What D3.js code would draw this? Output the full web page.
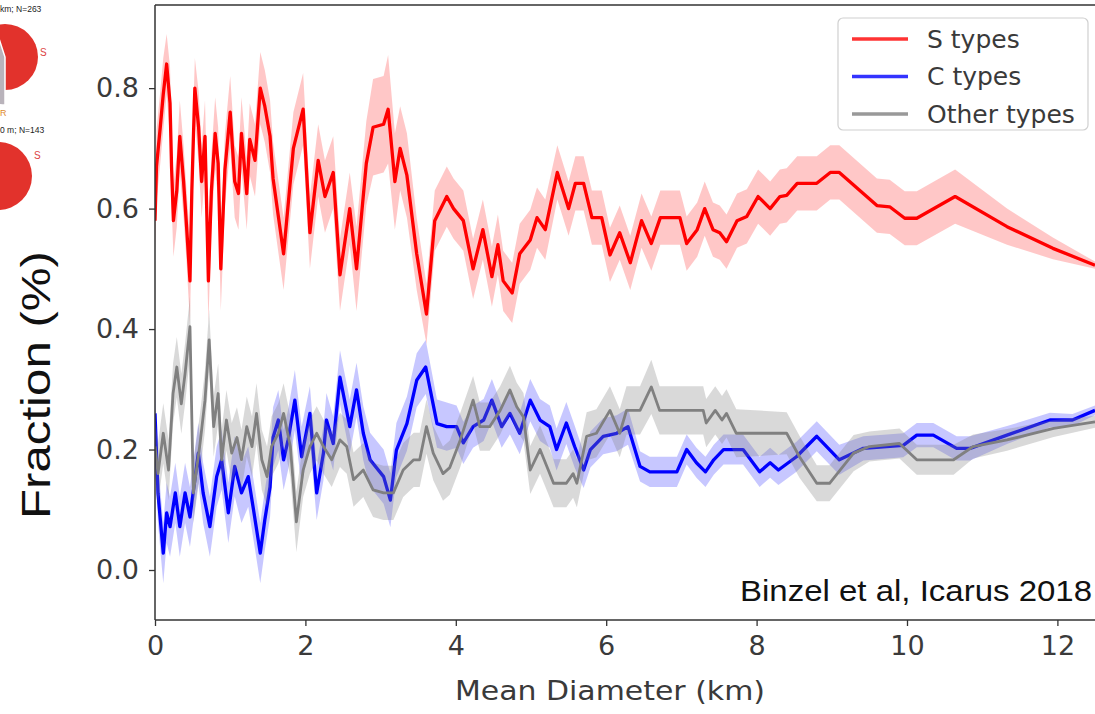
<!DOCTYPE html>
<html>
<head>
<meta charset="utf-8">
<script src="https://cdn.jsdelivr.net/npm/d3@7"></script>
<style>
  body { margin: 0; background: #fff; }
  svg { display: block; }
</style>
</head>
<body>
<div class="chart"></div>
<script>
// S types (red)
var sDiam = [0, 0.02, 0.07, 0.11, 0.155, 0.2, 0.22, 0.245, 0.29, 0.33,
  0.38, 0.42, 0.465, 0.49, 0.53, 0.58, 0.62, 0.665, 0.71, 0.75,
  0.8, 0.84, 0.875, 0.93, 1.0, 1.06, 1.11, 1.15, 1.22, 1.26,
  1.33, 1.4, 1.46, 1.53, 1.57, 1.71, 1.84, 1.97, 2.06, 2.17,
  2.26, 2.37, 2.46, 2.59, 2.68, 2.81, 2.9, 3.04, 3.1, 3.19,
  3.26, 3.35, 3.48, 3.61, 3.72, 3.88, 3.97, 4.1, 4.23, 4.36,
  4.48, 4.56, 4.63, 4.75, 4.85, 4.99, 5.08, 5.19, 5.35, 5.5,
  5.59, 5.7, 5.81, 5.94, 6.05, 6.18, 6.32, 6.47, 6.6, 6.72,
  6.98, 7.07, 7.21, 7.31, 7.42, 7.51, 7.6, 7.74, 7.87, 8.02,
  8.18, 8.31, 8.4, 8.54, 8.8, 8.98, 9.1, 9.6, 9.77, 9.97,
  10.13, 10.64, 11.33, 11.94, 12.5];
var sFrac = [0.58, 0.67, 0.735, 0.79, 0.84, 0.775, 0.67, 0.58, 0.63, 0.72,
  0.645, 0.57, 0.48, 0.63, 0.80, 0.735, 0.645, 0.72, 0.48, 0.63,
  0.725, 0.675, 0.50, 0.665, 0.76, 0.645, 0.625, 0.725, 0.625, 0.715,
  0.68, 0.80, 0.77, 0.72, 0.65, 0.525, 0.70, 0.765, 0.56, 0.68,
  0.62, 0.66, 0.49, 0.60, 0.50, 0.675, 0.735, 0.74, 0.765, 0.645,
  0.70, 0.655, 0.525, 0.425, 0.58, 0.62, 0.60, 0.58, 0.50, 0.565,
  0.487, 0.54, 0.48, 0.46, 0.525, 0.548, 0.585, 0.565, 0.66, 0.60,
  0.642, 0.642, 0.585, 0.585, 0.523, 0.56, 0.51, 0.58, 0.542, 0.585,
  0.585, 0.542, 0.565, 0.60, 0.565, 0.56, 0.545, 0.58, 0.587, 0.62,
  0.60, 0.62, 0.622, 0.642, 0.642, 0.66, 0.66, 0.605, 0.603, 0.584,
  0.584, 0.62, 0.57, 0.534, 0.506];
var sErr = [0.05, 0.06, 0.06, 0.06, 0.05, 0.06, 0.06, 0.06, 0.06, 0.06,
  0.06, 0.06, 0.07, 0.06, 0.05, 0.06, 0.06, 0.06, 0.07, 0.06,
  0.06, 0.06, 0.07, 0.06, 0.06, 0.06, 0.06, 0.06, 0.06, 0.06,
  0.06, 0.06, 0.06, 0.06, 0.06, 0.06, 0.06, 0.06, 0.06, 0.06,
  0.06, 0.06, 0.06, 0.06, 0.07, 0.07, 0.08, 0.08, 0.09, 0.08,
  0.07, 0.07, 0.06, 0.05, 0.05, 0.05, 0.05, 0.05, 0.05, 0.05,
  0.05, 0.05, 0.05, 0.05, 0.05, 0.05, 0.05, 0.05, 0.045, 0.045,
  0.045, 0.045, 0.045, 0.045, 0.045, 0.045, 0.045, 0.045, 0.045, 0.045,
  0.045, 0.045, 0.045, 0.045, 0.045, 0.045, 0.045, 0.045, 0.045, 0.045,
  0.045, 0.045, 0.045, 0.045, 0.045, 0.045, 0.045, 0.045, 0.045, 0.045,
  0.045, 0.045, 0.03, 0.018, 0.006];

// C types (blue)
var cDiam = [0, 0.04, 0.11, 0.155, 0.2, 0.27, 0.33, 0.4, 0.465, 0.576,
  0.64, 0.73, 0.82, 0.886, 0.975, 1.06, 1.15, 1.24, 1.31, 1.4,
  1.46, 1.53, 1.57, 1.64, 1.71, 1.77, 1.86, 1.95, 2.06, 2.15,
  2.24, 2.28, 2.37, 2.46, 2.59, 2.68, 2.77, 2.86, 3.04, 3.13,
  3.21, 3.35, 3.48, 3.6, 3.75, 3.88, 4.01, 4.1, 4.23, 4.37,
  4.48, 4.61, 4.72, 4.85, 4.99, 5.12, 5.25, 5.34, 5.47, 5.58,
  5.7, 5.79, 5.96, 6.14, 6.29, 6.45, 6.58, 6.94, 7.07, 7.2,
  7.32, 7.43, 7.56, 7.82, 8.04, 8.18, 8.29, 8.53, 8.8, 9.1,
  9.42, 9.95, 10.13, 10.35, 10.66, 10.84, 11.33, 11.9, 12.2, 12.5];
var cFrac = [0.26, 0.127, 0.028, 0.095, 0.072, 0.128, 0.072, 0.128, 0.088, 0.194,
  0.128, 0.072, 0.155, 0.183, 0.095, 0.172, 0.128, 0.155, 0.10, 0.028,
  0.083, 0.138, 0.22, 0.249, 0.183, 0.216, 0.282, 0.188, 0.26, 0.128,
  0.194, 0.249, 0.21, 0.32, 0.238, 0.299, 0.227, 0.183, 0.155, 0.116,
  0.199, 0.243, 0.315, 0.337, 0.243, 0.238, 0.238, 0.211, 0.238, 0.249,
  0.282, 0.238, 0.26, 0.227, 0.282, 0.249, 0.238, 0.20, 0.244, 0.205,
  0.166, 0.20, 0.222, 0.227, 0.238, 0.172, 0.163, 0.163, 0.20, 0.178,
  0.163, 0.183, 0.20, 0.20, 0.163, 0.178, 0.166, 0.188, 0.222, 0.183,
  0.202, 0.207, 0.224, 0.224, 0.202, 0.202, 0.224, 0.249, 0.249, 0.265];
var cErr = [0.05, 0.05, 0.05, 0.05, 0.05, 0.05, 0.05, 0.05, 0.05, 0.05,
  0.05, 0.05, 0.05, 0.05, 0.05, 0.05, 0.05, 0.05, 0.05, 0.05,
  0.05, 0.05, 0.05, 0.05, 0.05, 0.05, 0.05, 0.05, 0.045, 0.045,
  0.045, 0.045, 0.045, 0.045, 0.045, 0.045, 0.045, 0.045, 0.045, 0.045,
  0.045, 0.045, 0.045, 0.045, 0.04, 0.04, 0.035, 0.035, 0.035, 0.035,
  0.035, 0.035, 0.035, 0.035, 0.035, 0.035, 0.035, 0.035, 0.035, 0.035,
  0.03, 0.03, 0.03, 0.03, 0.03, 0.025, 0.025, 0.025, 0.025, 0.025,
  0.025, 0.025, 0.025, 0.025, 0.025, 0.025, 0.025, 0.025, 0.025, 0.025,
  0.02, 0.02, 0.02, 0.02, 0.02, 0.02, 0.015, 0.012, 0.01, 0.008];

// Other types (gray)
var oDiam = [0, 0.04, 0.11, 0.18, 0.24, 0.29, 0.35, 0.4, 0.465, 0.51,
  0.6, 0.665, 0.72, 0.78, 0.84, 0.886, 0.95, 1.02, 1.09, 1.15,
  1.22, 1.29, 1.35, 1.42, 1.49, 1.55, 1.64, 1.71, 1.8, 1.88,
  1.97, 2.06, 2.15, 2.24, 2.35, 2.46, 2.55, 2.64, 2.77, 2.9,
  3.04, 3.17, 3.3, 3.44, 3.52, 3.61, 3.7, 3.83, 3.92, 4.06,
  4.23, 4.32, 4.45, 4.59, 4.72, 4.81, 4.9, 4.99, 5.12, 5.23,
  5.3, 5.47, 5.56, 5.61, 5.74, 5.87, 6.05, 6.18, 6.27, 6.45,
  6.6, 6.71, 7.29, 7.33, 7.45, 7.54, 7.6, 7.73, 8.4, 8.57,
  8.8, 8.97, 9.29, 9.5, 9.9, 10.13, 10.62, 10.88, 11.33, 11.95,
  12.5];
var oFrac = [0.205, 0.16, 0.227, 0.166, 0.293, 0.337, 0.276, 0.326, 0.404, 0.128,
  0.211, 0.282, 0.382, 0.238, 0.293, 0.183, 0.249, 0.194, 0.22, 0.183,
  0.238, 0.205, 0.26, 0.183, 0.155, 0.205, 0.227, 0.26, 0.205, 0.08,
  0.166, 0.205, 0.227, 0.205, 0.183, 0.216, 0.205, 0.15, 0.166, 0.133,
  0.128, 0.128, 0.166, 0.183, 0.183, 0.238, 0.194, 0.16, 0.17, 0.216,
  0.282, 0.238, 0.238, 0.265, 0.299, 0.271, 0.254, 0.166, 0.20, 0.166,
  0.144, 0.144, 0.16, 0.144, 0.222, 0.227, 0.265, 0.227, 0.265, 0.265,
  0.304, 0.265, 0.265, 0.244, 0.265, 0.249, 0.26, 0.227, 0.227, 0.188,
  0.144, 0.144, 0.194, 0.205, 0.21, 0.183, 0.183, 0.205, 0.216, 0.235,
  0.246];
var oErr = [0.05, 0.05, 0.05, 0.05, 0.05, 0.05, 0.05, 0.05, 0.05, 0.05,
  0.05, 0.05, 0.05, 0.05, 0.05, 0.05, 0.05, 0.05, 0.05, 0.05,
  0.05, 0.05, 0.05, 0.05, 0.05, 0.05, 0.05, 0.05, 0.05, 0.05,
  0.045, 0.045, 0.045, 0.045, 0.045, 0.045, 0.045, 0.045, 0.045, 0.045,
  0.045, 0.045, 0.045, 0.045, 0.045, 0.045, 0.045, 0.045, 0.045, 0.045,
  0.04, 0.04, 0.04, 0.04, 0.04, 0.04, 0.04, 0.04, 0.04, 0.04,
  0.04, 0.04, 0.04, 0.04, 0.04, 0.04, 0.04, 0.04, 0.04, 0.04,
  0.045, 0.04, 0.04, 0.04, 0.04, 0.04, 0.04, 0.04, 0.035, 0.035,
  0.03, 0.03, 0.03, 0.025, 0.025, 0.025, 0.025, 0.02, 0.018, 0.014,
  0.01];

var xTicks = [0, 2, 4, 6, 8, 10, 12];
var yTicks = [0.0, 0.2, 0.4, 0.6, 0.8];
var legendNames = ["S types", "C types", "Other types"];
var pieLabels = ["km;  N=263", "0 m;  N=143"];

var width = 1095, height = 714;
var plot = {left: 155, right: 1095, top: 5, bottom: 620};

var svg = d3.select(".chart")
  .append("svg")
  .attr("width", width)
  .attr("height", height);

var x = d3.scaleLinear().domain([0, 12.5]).range([plot.left, plot.right]);
var y = d3.scaleLinear().domain([-0.083, 0.938]).range([plot.bottom, plot.top]);

svg.append("clipPath").attr("id", "clip")
  .append("rect")
  .attr("x", plot.left).attr("y", plot.top)
  .attr("width", plot.right - plot.left).attr("height", plot.bottom - plot.top);

// partial pies cut off at the left edge
var pieG = svg.append("g").attr("font-family", "Liberation Sans, Arial, sans-serif");
pieG.append("circle").attr("cx", 5).attr("cy", 57).attr("r", 33).attr("fill", "#e2322c");
pieG.append("path")
  .attr("d", d3.arc().innerRadius(0).outerRadius(48).startAngle(Math.PI * 1.0).endAngle(Math.PI * 1.9)())
  .attr("transform", "translate(5,57)")
  .attr("fill", "#b9b3bb")
  .attr("stroke", "#fff")
  .attr("stroke-width", 1.5);
pieG.append("text").attr("x", 0).attr("y", 116).attr("font-size", 9).attr("fill", "#e08a2a").text("R");
pieG.append("circle").attr("cx", -2).attr("cy", 176).attr("r", 34).attr("fill", "#e2322c");
pieG.selectAll("text.pl").data(pieLabels).enter().append("text")
  .attr("class", "pl")
  .attr("x", 0)
  .attr("y", function(d, i) { return i == 0 ? 12 : 133; })
  .attr("font-size", 8.5)
  .attr("fill", "#222")
  .text(function(d) { return d; });
pieG.selectAll("text.ps").data([0, 1]).enter().append("text")
  .attr("x", function(d) { return d == 0 ? 40 : 34; })
  .attr("y", function(d) { return d == 0 ? 56 : 159; })
  .attr("font-size", 10)
  .attr("fill", "#d44")
  .text("S");

var series = [
  {d: sDiam, v: sFrac, e: sErr, line: "#ff0000", band: "#ff0000", bandOp: 0.22, w: 3.3},
  {d: cDiam, v: cFrac, e: cErr, line: "#0000ff", band: "#0000ff", bandOp: 0.22, w: 3.3},
  {d: oDiam, v: oFrac, e: oErr, line: "#808080", band: "#808080", bandOp: 0.3, w: 2.8}
];

var plotG = svg.append("g").attr("clip-path", "url(#clip)");

series.forEach(function(s) {
  var pts = s.d.map(function(d, i) { return {d: d, v: s.v[i], e: s.e[i]}; });

  var area = d3.area()
    .x(function(p) { return x(p.d); })
    .y0(function(p) { return y(p.v - p.e); })
    .y1(function(p) { return y(p.v + p.e); });

  var line = d3.line()
    .x(function(p) { return x(p.d); })
    .y(function(p) { return y(p.v); });

  plotG.append("path")
    .datum(pts)
    .attr("fill", s.band)
    .attr("fill-opacity", s.bandOp)
    .attr("d", area);

  plotG.append("path")
    .datum(pts)
    .attr("fill", "none")
    .attr("stroke", s.line)
    .attr("stroke-width", s.w)
    .attr("stroke-linejoin", "round")
    .attr("d", line);
});

// frame
svg.append("line")
  .attr("x1", plot.left).attr("x2", plot.left)
  .attr("y1", plot.top).attr("y2", plot.bottom)
  .attr("stroke", "#333").attr("stroke-width", 1.5);
svg.append("line")
  .attr("x1", plot.left).attr("x2", plot.right)
  .attr("y1", plot.bottom).attr("y2", plot.bottom)
  .attr("stroke", "#333").attr("stroke-width", 1.5);
svg.append("line")
  .attr("x1", plot.left).attr("x2", plot.right)
  .attr("y1", plot.top).attr("y2", plot.top)
  .attr("stroke", "#333").attr("stroke-width", 1.5);

// axes
var xAxis = svg.append("g")
  .attr("transform", "translate(0," + plot.bottom + ")")
  .call(d3.axisBottom(x).tickValues(xTicks).tickSize(6).tickPadding(10).tickFormat(d3.format("d")));
var yAxis = svg.append("g")
  .attr("transform", "translate(" + plot.left + ",0)")
  .call(d3.axisLeft(y).tickValues(yTicks).tickSize(6).tickPadding(10).tickFormat(d3.format(".1f")));

[xAxis, yAxis].forEach(function(a) {
  a.select(".domain").remove();
  a.selectAll(".tick line").attr("stroke", "#333").attr("stroke-width", 1.3);
  a.selectAll(".tick text")
    .attr("fill", "#3a3a3a")
    .attr("font-family", "DejaVu Sans, sans-serif")
    .attr("font-size", 27);
});

svg.append("text")
  .attr("x", 610)
  .attr("y", 700)
  .attr("text-anchor", "middle")
  .attr("font-family", "DejaVu Sans, sans-serif")
  .attr("font-size", 27)
  .attr("fill", "#3a3a3a")
  .attr("textLength", 310)
  .attr("lengthAdjust", "spacingAndGlyphs")
  .text("Mean Diameter (km)");

svg.append("text")
  .attr("transform", "translate(50,385) rotate(-90)")
  .attr("text-anchor", "middle")
  .attr("font-family", "Liberation Sans, Arial, sans-serif")
  .attr("font-size", 41)
  .attr("fill", "#111")
  .attr("textLength", 268)
  .attr("lengthAdjust", "spacingAndGlyphs")
  .text("Fraction (%)");

svg.append("text")
  .attr("x", 740)
  .attr("y", 601)
  .attr("font-family", "Liberation Sans, Arial, sans-serif")
  .attr("font-size", 30)
  .attr("fill", "#111")
  .attr("textLength", 352)
  .attr("lengthAdjust", "spacingAndGlyphs")
  .text("Binzel et al, Icarus 2018");

// legend
var legend = svg.append("g");
legend.append("rect")
  .attr("x", 838).attr("y", 18)
  .attr("width", 250).attr("height", 112)
  .attr("rx", 5)
  .attr("fill", "#fff").attr("fill-opacity", 0.85)
  .attr("stroke", "#d0d0d0").attr("stroke-width", 1.2);
var items = legend.selectAll("g.item").data(legendNames).enter().append("g")
  .attr("transform", function(d, i) { return "translate(0," + (39 + i * 37.5) + ")"; });
items.append("line")
  .attr("x1", 852).attr("x2", 908)
  .attr("stroke", function(d, i) { return series[i].line; })
  .attr("stroke-width", 3.5)
  .attr("stroke-opacity", 0.8);
items.append("text")
  .attr("x", 927)
  .attr("dy", "0.35em")
  .attr("font-family", "DejaVu Sans, sans-serif")
  .attr("font-size", 25)
  .attr("fill", "#3a3a3a")
  .text(function(d) { return d; });
</script>
</body>
</html>
